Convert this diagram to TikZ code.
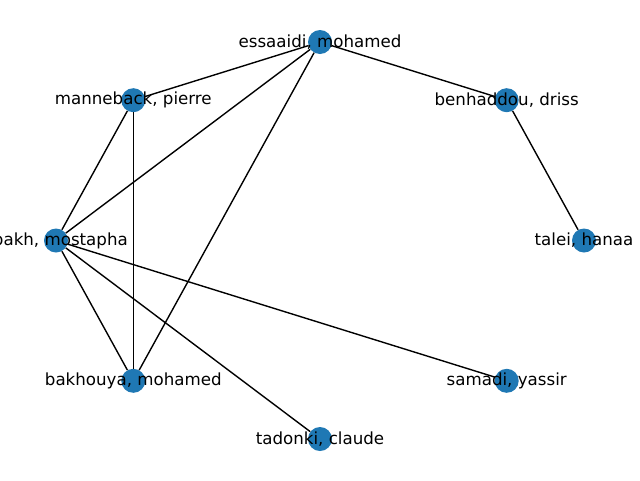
\documentclass[tikz,border=0pt]{standalone}
\usepackage{fontspec}
\setmainfont{DejaVu Sans}
\definecolor{nodeblue}{HTML}{1F78B4}
\begin{document}
\begin{tikzpicture}[x=1pt,y=-1pt,
  vertex/.style={circle,fill=nodeblue,draw=none,minimum size=24pt,inner sep=0pt},
  edge/.style={draw=black,line width=1.39pt},
  lbl/.style={inner sep=0pt,anchor=center,font=\fontsize{16.67}{20}\selectfont,text=black}]
\useasboundingbox (0,0) rectangle (640,480);
\fill[white] (0,0) rectangle (640,480);
\clip (0,0) rectangle (640,480);
\node[vertex] (ta) at (584,240.5) {};
\node[vertex] (be) at (506.7,100.2) {};
\node[vertex] (es) at (320,42) {};
\node[vertex] (ma) at (133.3,100.2) {};
\node[vertex] (zb) at (56,240.5) {};
\node[vertex] (bk) at (133.3,380.8) {};
\node[vertex] (td) at (320,439) {};
\node[vertex] (sa) at (506.7,380.8) {};
\path[edge] (es) -- (ma);
\path[edge] (es) -- (be);
\path[edge] (es) -- (zb);
\path[edge] (es) -- (bk);
\path[edge] (ma) -- (zb);
\path[edge] (ma) -- (bk);
\path[edge] (be) -- (ta);
\path[edge] (zb) -- (bk);
\path[edge] (zb) -- (td);
\path[edge] (zb) -- (sa);
\node[lbl] (lta) at (ta) {talei, hanaa};
\node[lbl] (lbe) at (be) {benhaddou, driss};
\node[lbl] (les) at (es) {essaaidi, mohamed};
\node[lbl] (lma) at (ma) {manneback, pierre};
\node[lbl] (lzb) at (zb) {zbakh, mostapha};
\node[lbl] (lbk) at (bk) {bakhouya, mohamed};
\node[lbl] (ltd) at (td) {tadonki, claude};
\node[lbl] (lsa) at (sa) {samadi, yassir};
\end{tikzpicture}
\end{document}
